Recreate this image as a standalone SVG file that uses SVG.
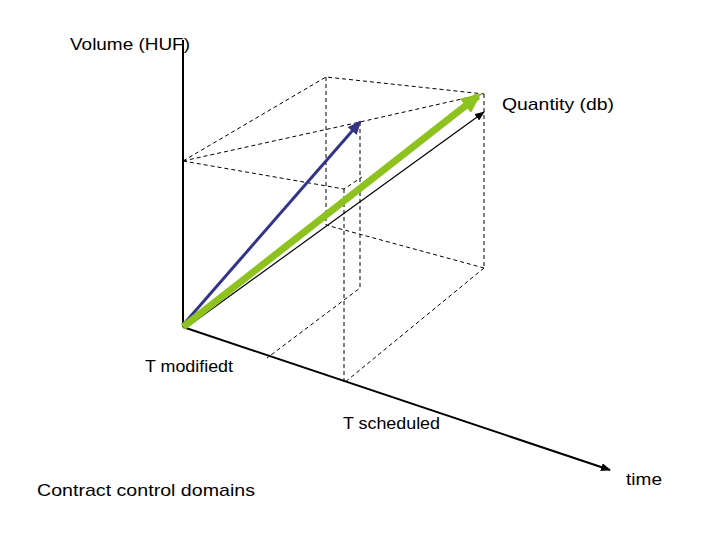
<svg xmlns="http://www.w3.org/2000/svg" width="720" height="540" viewBox="0 0 720 540">
<style>
.d{stroke:#000;stroke-width:1;stroke-dasharray:4,3;fill:none}
.t{font-family:"Liberation Sans",Arial,sans-serif;font-size:17px;fill:#000}
</style>
<defs>
<marker id="ak" markerWidth="10" markerHeight="8" refX="9" refY="4" orient="auto" markerUnits="userSpaceOnUse"><path d="M0,0L10,4L0,8z" fill="#000"/></marker>
<marker id="ab" markerWidth="14" markerHeight="12" refX="12" refY="6" orient="auto" markerUnits="userSpaceOnUse"><path d="M0,0L14,6L0,12z" fill="#333388"/></marker>
<marker id="ag" markerWidth="20" markerHeight="18" refX="16" refY="9" orient="auto" markerUnits="userSpaceOnUse"><path d="M0,0L20,9L0,18z" fill="#8dc21f"/></marker>
</defs>
<rect width="720" height="540" fill="#fff"/>
<g id="grid">
<path class="d" d="M183,161L326,77L484,94M183,161L360,122L484,94M183,161L344,189L362,177M326,77V225L484,268M484,94V268M344,189V383M360,122V288L267,358M484,268L344,383"/>
</g>
<g id="connectors">
<line x1="183" y1="327" x2="183" y2="40" stroke="#000" stroke-width="2"/>
<line x1="183" y1="327" x2="610" y2="470" stroke="#000" stroke-width="2" marker-end="url(#ak)"/>
<line x1="187" y1="327" x2="484" y2="112" stroke="#000" stroke-width="1.2" marker-end="url(#ak)"/>
<line x1="183" y1="325" x2="360" y2="122" stroke="#333388" stroke-width="3" marker-end="url(#ab)"/>
<line x1="183" y1="327" x2="478" y2="96" stroke="#8dc21f" stroke-width="7" marker-end="url(#ag)"/>
</g>
<g id="labels">
<text class="t" x="70" y="50" textLength="120" lengthAdjust="spacingAndGlyphs">Volume (HUF)</text>
<text class="t" x="502" y="110" textLength="112" lengthAdjust="spacingAndGlyphs">Quantity (db)</text>
<text class="t" x="145" y="372" textLength="88" lengthAdjust="spacingAndGlyphs">T modifiedt</text>
<text class="t" x="343" y="429" textLength="97" lengthAdjust="spacingAndGlyphs">T scheduled</text>
<text class="t" x="626" y="485" textLength="36" lengthAdjust="spacingAndGlyphs">time</text>
<text class="t" x="37" y="496" textLength="218" lengthAdjust="spacingAndGlyphs">Contract control domains</text>
</g>
</svg>
